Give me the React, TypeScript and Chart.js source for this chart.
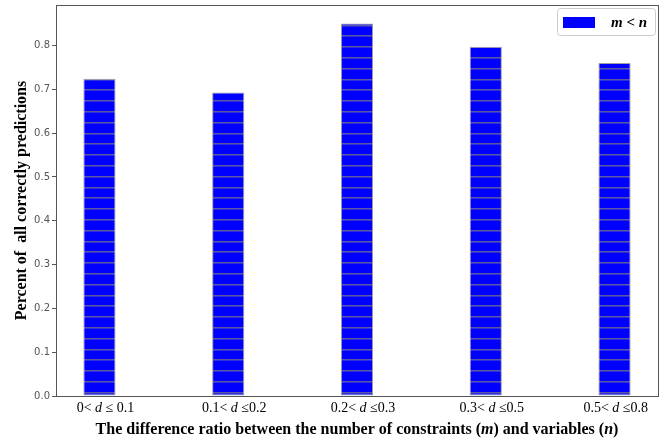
import React, { useEffect, useRef } from 'react';
import { Chart, registerables } from 'chart.js';

Chart.register(...registerables);

const categories = ['0< d ≤ 0.1', '0.1< d ≤0.2', '0.2< d ≤0.3', '0.3< d ≤0.5', '0.5< d ≤0.8'];
const values = [0.724, 0.693, 0.85, 0.797, 0.76];
const yTicks = [0, 0.1, 0.2, 0.3, 0.4, 0.5, 0.6, 0.7, 0.8];
const seriesLabel = 'm < n';
const yTitle = 'Percent of  all correctly predictions';
const xTitle = 'The difference ratio between the number of constraints (m) and variables (n)';

const SERIF = '"Liberation Serif", "Times New Roman", serif';

// split text into [segment, italic] parts; single-letter variables d/m/n are italic
function richParts(text: string): [string, boolean][] {
  const parts: [string, boolean][] = [];
  const re = /\b([dmn])\b/g;
  let last = 0;
  let mt: RegExpExecArray | null;
  while ((mt = re.exec(text))) {
    if (mt.index > last) parts.push([text.slice(last, mt.index), false]);
    parts.push([mt[1], true]);
    last = mt.index + 1;
  }
  if (last < text.length) parts.push([text.slice(last), false]);
  return parts;
}

function measureRich(ctx: CanvasRenderingContext2D, text: string, size: number, bold: boolean) {
  let total = 0;
  for (const [s, it] of richParts(text)) {
    ctx.font = `${it ? 'italic ' : ''}${bold ? 'bold ' : ''}${size}px ${SERIF}`;
    total += ctx.measureText(s).width;
  }
  return total;
}

function drawRich(ctx: CanvasRenderingContext2D, text: string, cx: number, y: number, size: number, bold: boolean) {
  const parts = richParts(text);
  const fontFor = (it: boolean) => `${it ? 'italic ' : ''}${bold ? 'bold ' : ''}${size}px ${SERIF}`;
  const total = measureRich(ctx, text, size, bold);
  let x = cx - total / 2;
  ctx.textAlign = 'left';
  for (const [s, it] of parts) {
    ctx.font = fontFor(it);
    ctx.fillText(s, x, y);
    x += ctx.measureText(s).width;
  }
}

function makeHatch(): CanvasPattern | string {
  const c = document.createElement('canvas');
  c.width = 4;
  c.height = 54;
  const g = c.getContext('2d');
  if (!g) return '#0000ff';
  g.fillStyle = '#0000ff';
  g.fillRect(0, 0, 4, 54);
  for (let k = 0; k < 5; k++) {
    const row = (3 + Math.round(k * 10.8)) % 54;
    g.fillStyle = '#5c56a0';
    g.fillRect(0, row, 4, 1);
    g.fillStyle = '#3030d8';
    g.fillRect(0, (row + 1) % 54, 4, 1);
  }
  const p = g.createPattern(c, 'repeat');
  return p || '#0000ff';
}

const decorPlugin = {
  id: 'decor',
  afterDraw(chart: any) {
    const ctx: CanvasRenderingContext2D = chart.ctx;
    const area = chart.chartArea;
    const xs = chart.scales.x;
    ctx.save();
    // frame
    ctx.strokeStyle = '#555555';
    ctx.lineWidth = 1;
    ctx.strokeRect(Math.round(area.left) + 0.5, Math.round(area.top) + 0.5, Math.round(area.right - area.left), Math.round(area.bottom - area.top));
    // x tick labels
    ctx.fillStyle = '#000000';
    ctx.textBaseline = 'alphabetic';
    categories.forEach((lab, i) => {
      const w = measureRich(ctx, lab, 14, false);
      const cx = Math.min(xs.getPixelForValue(i) + 6, area.right - w / 2 - 10);
      drawRich(ctx, lab, cx, area.bottom + 16, 14, false);
    });
    // x title
    drawRich(ctx, xTitle, (area.left + area.right) / 2, area.bottom + 38, 16, true);
    // y title
    ctx.save();
    ctx.translate(26, (area.top + area.bottom) / 2);
    ctx.rotate(-Math.PI / 2);
    drawRich(ctx, yTitle, 0, 0, 16, true);
    ctx.restore();
    // legend
    const bx = area.right - 101, by = area.top + 3, bw = 98, bh = 27;
    ctx.fillStyle = 'rgba(255,255,255,0.9)';
    ctx.strokeStyle = '#cccccc';
    ctx.beginPath();
    (ctx as any).roundRect ? (ctx as any).roundRect(bx + 0.5, by + 0.5, bw, bh, 3) : ctx.rect(bx + 0.5, by + 0.5, bw, bh);
    ctx.fill();
    ctx.stroke();
    ctx.fillStyle = '#0000ff';
    ctx.fillRect(bx + 6, by + 9, 32, 11);
    ctx.fillStyle = '#000000';
    drawRich(ctx, seriesLabel, bx + 72, by + 19, 15, true);
    ctx.restore();
  },
};

export default function App() {
  const ref = useRef<HTMLCanvasElement>(null);
  useEffect(() => {
    document.body.style.margin = '0';
    const canvas = ref.current;
    if (!canvas) return;
    const chart = new Chart(canvas, {
      type: 'bar',
      data: {
        datasets: [
          {
            label: seriesLabel,
            data: values.map((v, i) => ({ x: i, y: v })),
            backgroundColor: makeHatch() as any,
            borderColor: '#a0a0a0',
            borderWidth: 1,
            borderSkipped: false,
            barPercentage: 0.25,
            categoryPercentage: 1,
          },
        ],
      },
      options: {
        responsive: false,
        animation: false,
        layout: { padding: { left: 0, right: 6, top: 5, bottom: 0 } },
        plugins: { legend: { display: false }, tooltip: { enabled: false } },
        scales: {
          x: {
            type: 'linear',
            min: -0.3375,
            max: 4.3375,
            offset: false,
            grid: { display: false },
            border: { display: false },
            ticks: { display: false },
            afterBuildTicks: (s: any) => {
              s.ticks = categories.map((_, i) => ({ value: i }));
            },
            afterFit: (s: any) => {
              s.height = 44;
              s.paddingLeft = 0;
              s.paddingRight = 0;
            },
          },
          y: {
            min: 0,
            max: 0.8925,
            afterBuildTicks: (s: any) => {
              s.ticks = yTicks.map((v) => ({ value: v }));
            },
            grid: { display: true, drawOnChartArea: false, drawTicks: true, tickLength: 4, color: '#555555' },
            border: { display: false },
            ticks: {
              padding: 2,
              color: '#555555',
              font: { family: '"DejaVu Sans", sans-serif', size: 10 },
              callback: (v: any) => Number(v).toFixed(1),
            },
            afterFit: (s: any) => {
              s.width = 56;
              s.paddingTop = 0;
              s.paddingBottom = 0;
            },
          },
        },
      },
      plugins: [decorPlugin],
    });
    return () => chart.destroy();
  }, []);
  return (
    <div style={{ width: 664, height: 440 }}>
      <canvas ref={ref} width={664} height={440} style={{ display: 'block' }} />
    </div>
  );
}
